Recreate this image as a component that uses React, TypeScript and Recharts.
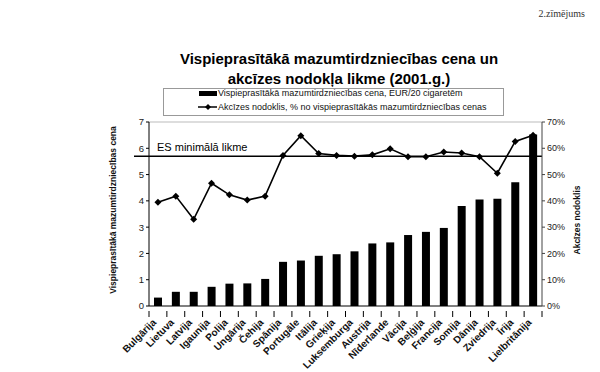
import { ComposedChart, Bar, Line, XAxis, YAxis, ReferenceLine } from 'recharts'

const COUNTRIES = [
  'Bulgārija', 'Lietuva', 'Latvija', 'Igaunija', 'Polija', 'Ungārija', 'Čehija',
  'Spānija', 'Portugāle', 'Itālija', 'Grieķija', 'Luksemburga', 'Austrija',
  'Nīderlande', 'Vācija', 'Beļģija', 'Francija', 'Somija', 'Dānija', 'Zviedrija',
  'Īrija', 'Lielbritānija',
]

// EUR / 20 cigaretēm
const PRICE = [
  0.32, 0.54, 0.54, 0.73, 0.85, 0.86, 1.03, 1.68, 1.73, 1.91, 1.97, 2.08, 2.38,
  2.42, 2.7, 2.82, 2.97, 3.8, 4.05, 4.08, 4.71, 6.52,
]

// akcīzes nodoklis, % no cenas
const EXCISE = [
  39.5, 41.8, 33, 46.7, 42.3, 40.3, 41.8, 57.3, 64.8, 58, 57.3, 57, 57.5, 59.8,
  56.8, 56.8, 58.6, 58.2, 56.8, 50.5, 62.6, 65,
]

const LEFT_TICKS = [0, 1, 2, 3, 4, 5, 6, 7]
const RIGHT_TICKS = [0, 10, 20, 30, 40, 50, 60, 70]
const ES_MIN = 57

const FONT = '"Liberation Sans", Arial, sans-serif'
const PLOT_W = 393
const HALF_BAND = PLOT_W / COUNTRIES.length / 2

const data = COUNTRIES.map((name, i) => ({ name, price: PRICE[i], excise: EXCISE[i] }))

const Diamond = (props: any) => {
  const { cx, cy } = props
  if (cx == null || cy == null) return null
  const r = 3.5
  return <polygon points={`${cx},${cy - r} ${cx + r},${cy} ${cx},${cy + r} ${cx - r},${cy}`} fill="#000" />
}

const CountryTick = (props: any) => {
  const { x, y, payload, index } = props
  const last = index === COUNTRIES.length - 1
  return (
    <g>
      <line x1={x - HALF_BAND} x2={x - HALF_BAND} y1={y - 3} y2={y + 3} stroke="#000" />
      {last && <line x1={x + HALF_BAND} x2={x + HALF_BAND} y1={y - 3} y2={y + 3} stroke="#000" />}
      <text
        transform={`translate(${x - 1},${y + 9}) rotate(-45)`}
        textAnchor="end"
        fontSize={10}
        fontWeight="bold"
        fontFamily={FONT}
        fill="#111"
      >
        {payload.value}
      </text>
    </g>
  )
}

const EsLine = (props: any) => {
  const left = Math.min(props.x1, props.x2)
  const right = Math.max(props.x1, props.x2)
  const y = props.y1
  return (
    <g>
      <line x1={left - 15} x2={right} y1={y} y2={y} stroke="#000" strokeWidth={1.5} />
      <text x={left + 8} y={y - 5} fontSize={11} fontFamily={FONT} fill="#000">
        ES minimālā likme
      </text>
    </g>
  )
}

export default function App() {
  return (
    <div style={{ position: 'absolute', left: 0, top: 0, width: 600, height: 372, background: '#fff' }}>
      <ComposedChart
        width={600}
        height={372}
        data={data}
        margin={{ top: 122, right: 0, bottom: 0, left: 0 }}
      >
        <XAxis
          dataKey="name"
          height={66}
          interval={0}
          tickLine={false}
          axisLine={{ stroke: '#000' }}
          tick={<CountryTick />}
        />
        <YAxis
          yAxisId="left"
          width={149}
          domain={[0, 7]}
          ticks={LEFT_TICKS}
          tickSize={3}
          tick={{ fontSize: 9.5, fill: '#222', fontFamily: FONT }}
          axisLine={{ stroke: '#000' }}
          tickLine={{ stroke: '#000' }}
        />
        <YAxis
          yAxisId="right"
          orientation="right"
          width={58}
          domain={[0, 70]}
          ticks={RIGHT_TICKS}
          tickFormatter={(v: number) => `${v}%`}
          tickSize={3}
          tick={{ fontSize: 9, fill: '#222', fontFamily: FONT }}
          axisLine={{ stroke: '#444' }}
          tickLine={{ stroke: '#444' }}
        />
        <ReferenceLine yAxisId="left" y={7} stroke="#bbb" />
        <Bar yAxisId="left" dataKey="price" fill="#000" barSize={8} isAnimationActive={false} />
        <ReferenceLine yAxisId="right" y={ES_MIN} shape={<EsLine />} />
        <Line
          yAxisId="right"
          dataKey="excise"
          stroke="#000"
          strokeWidth={1.6}
          dot={<Diamond />}
          activeDot={false}
          isAnimationActive={false}
        />
      </ComposedChart>
      <svg
        width={600}
        height={372}
        style={{ position: 'absolute', left: 0, top: 0, pointerEvents: 'none' }}
      >
        <text x={585} y={17} textAnchor="end" fontSize={10} fontFamily='"Liberation Serif", serif' fill="#333">
          2.zīmējums
        </text>
        <text x={339} y={64} textAnchor="middle" fontSize={15} fontWeight="bold" fontFamily={FONT} fill="#000">
          Vispieprasītākā mazumtirdzniecības cena un
        </text>
        <text x={339} y={84} textAnchor="middle" fontSize={15} fontWeight="bold" fontFamily={FONT} fill="#000">
          akcīzes nodokļa likme (2001.g.)
        </text>
        <rect x={163.5} y={88.5} width={340} height={27} fill="none" stroke="#999" />
        <rect x={199} y={91} width={18} height={5} fill="#000" />
        <text x={218} y={96} fontSize={9} fontFamily={FONT} fill="#111">
          Vispieprasītākā mazumtirdzniecības cena,  EUR/20 cigaretēm
        </text>
        <line x1={198} x2={217} y1={107} y2={107} stroke="#000" strokeWidth={1.5} />
        <polygon points="208,104 211,107 208,110 205,107" fill="#000" />
        <text x={218} y={110} fontSize={9} fontFamily={FONT} fill="#111">
          Akcīzes nodoklis, % no vispieprasītākās mazumtirdzniecības cenas
        </text>
        <text
          transform="translate(116,210) rotate(-90)"
          textAnchor="middle"
          fontSize={8.5}
          fontWeight="bold"
          fontFamily={FONT}
          fill="#111"
        >
          Vispieprasītākā mazumtirdzniecības cena
        </text>
        <text
          transform="translate(580,220) rotate(-90)"
          textAnchor="middle"
          fontSize={8.5}
          fontWeight="bold"
          fontFamily={FONT}
          fill="#111"
        >
          Akcīzes nodoklis
        </text>
      </svg>
    </div>
  )
}
